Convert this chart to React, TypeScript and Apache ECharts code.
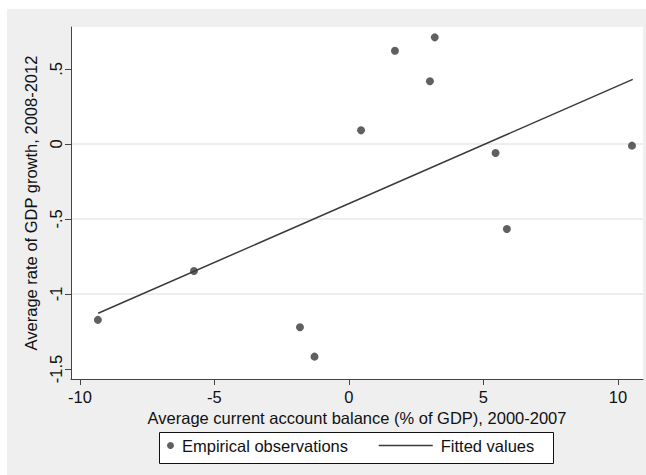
import React, { useEffect, useRef } from "react";
import * as echarts from "echarts";

// Empirical observations: x = avg current account balance (% of GDP) 2000-2007, y = avg GDP growth 2008-2012
const obsX = [-9.33, -5.76, -1.82, -1.28, 0.45, 1.71, 3.01, 3.19, 5.45, 5.87, 10.52];
const obsY = [-1.173, -0.847, -1.222, -1.418, 0.091, 0.622, 0.418, 0.711, -0.06, -0.567, -0.011];

// Fitted values (end points of the fitted line)
const fitX = [-9.32, 10.55];
const fitY = [-1.129, 0.431];

const xTicks = [-10, -5, 0, 5, 10];
const yTicks = [-1.5, -1, -0.5, 0, 0.5];

const FONT = '"Liberation Sans", Arial, sans-serif';

function stataFmt(v: number): string {
  if (v === 0) return "0";
  const s = String(v);
  return s.replace(/^(-?)0\./, "$1.");
}

export default function App() {
  const ref = useRef<HTMLDivElement>(null);
  useEffect(() => {
    if (!ref.current) return;
    const chart = echarts.init(ref.current, undefined, { renderer: "svg" });
    const textColor = "#111";
    chart.setOption({
      animation: false,
      backgroundColor: "#efefef",
      textStyle: { fontFamily: FONT },
      grid: {
        left: 64,
        top: 18,
        right: 3,
        bottom: 96,
        show: true,
        backgroundColor: "#ffffff",
        borderWidth: 0,
      },
      xAxis: {
        type: "value",
        min: -10.33,
        max: 10.93,
        name: "Average current account balance (% of GDP), 2000-2007",
        nameLocation: "middle",
        nameGap: 26,
        nameTextStyle: { fontSize: 16.5, color: textColor, fontFamily: FONT },
        axisLine: { onZero: false, lineStyle: { color: "#444", width: 1 } },
        axisTick: { show: true, length: 6, customValues: xTicks, lineStyle: { color: "#444" } },
        axisLabel: {
          customValues: xTicks,
          margin: 9,
          fontSize: 16.5,
          color: textColor,
          fontFamily: FONT,
          formatter: (v: number) => stataFmt(v),
        },
        splitLine: { show: false },
      },
      yAxis: {
        type: "value",
        min: -1.567,
        max: 0.78,
        name: "Average rate of GDP growth, 2008-2012",
        nameLocation: "middle",
        nameGap: 27,
        nameRotate: 90,
        nameTextStyle: { fontSize: 16.5, color: textColor, fontFamily: FONT },
        axisLine: { onZero: false, lineStyle: { color: "#444", width: 1 } },
        axisTick: { show: true, length: 6, customValues: yTicks, lineStyle: { color: "#444" } },
        axisLabel: {
          customValues: yTicks,
          rotate: 90,
          margin: 7,
          fontSize: 16.5,
          color: textColor,
          fontFamily: FONT,
          formatter: (v: number) => stataFmt(v),
        },
        splitLine: {
          show: true,
          showMinLine: false,
          showMaxLine: false,
          lineStyle: { color: "#e9e9e9", width: 1.5 },
        },
      },
      legend: [
        {
          data: ["Empirical observations"],
          left: 160,
          top: 428,
          padding: 0,
          z: 5,
          icon: "circle",
          itemWidth: 7,
          itemHeight: 7,
          textStyle: { fontSize: 16.5, color: textColor, fontFamily: FONT, padding: [0, 0, 0, 3] },
        },
        {
          data: ["Fitted values"],
          left: 371,
          top: 428,
          padding: 0,
          z: 5,
          itemWidth: 54,
          itemHeight: 10,
          itemStyle: { opacity: 0 },
          lineStyle: { color: "#3a3a3a", width: 1.5, opacity: 1 },
          textStyle: { fontSize: 16.5, color: textColor, fontFamily: FONT, padding: [0, 0, 0, 3] },
        },
      ],
      graphic: [
        {
          type: "rect",
          z: 1,
          shape: { x: 152.5, y: 423.5, width: 394, height: 31 },
          style: { fill: "#ffffff", stroke: "#111", lineWidth: 1 },
        },
      ],
      series: [
        {
          name: "Fitted values",
          type: "line",
          data: fitX.map((x, i) => [x, fitY[i]]),
          symbol: "none",
          showSymbol: false,
          lineStyle: { color: "#3a3a3a", width: 1.5 },
          itemStyle: { color: "#3a3a3a" },
          z: 2,
        },
        {
          name: "Empirical observations",
          type: "scatter",
          data: obsX.map((x, i) => [x, obsY[i]]),
          symbol: "circle",
          symbolSize: 8,
          itemStyle: { color: "#383838" },
          z: 3,
        },
      ],
    });
    return () => chart.dispose();
  }, []);
  return (
    <div
      ref={ref}
      style={{ position: "absolute", left: 7, top: 9, width: 639, height: 466 }}
    />
  );
}
